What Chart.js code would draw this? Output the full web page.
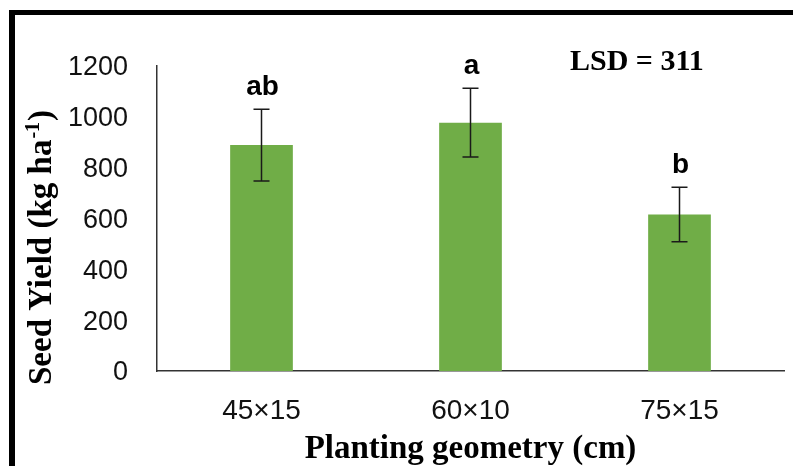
<!DOCTYPE html>
<html>
<head>
<meta charset="utf-8">
<script src="https://cdn.jsdelivr.net/npm/chart.js@4.4.1/dist/chart.umd.min.js"></script>
<style>
  html, body { margin: 0; padding: 0; background: #fff; }
  #wrap { position: relative; width: 793px; height: 466px; }
</style>
</head>
<body>
<div id="wrap"><canvas id="c" width="793" height="466"></canvas></div>
<script>
const categories = ["45×15", "60×10", "75×15"];
const seedYield = [889, 977, 616];
const errorSE = [141, 135, 107];
const letters = ["ab", "a", "b"];
const yTicks = [0, 200, 400, 600, 800, 1000, 1200];
const lsdText = "LSD = 311";
const xTitle = "Planting geometry (cm)";
const yTitleMain = "Seed Yield (kg ha";
const yTitleSup = "-1";
const yTitleEnd = ")";

const serif = '"Liberation Serif", "Times New Roman", serif';

const annotPlugin = {
  id: 'annot',
  beforeDraw(chart) {
    const ctx = chart.ctx;
    ctx.save();
    ctx.fillStyle = '#fff';
    ctx.fillRect(0, 0, chart.width, chart.height);
    ctx.fillStyle = '#000';
    ctx.fillRect(9, 10, chart.width - 9, 5);
    ctx.fillRect(9, 10, 6, chart.height - 10);
    ctx.restore();
  },
  afterDatasetsDraw(chart) {
    const ctx = chart.ctx;
    const meta = chart.getDatasetMeta(0);
    const y = chart.scales.y;
    ctx.save();
    ctx.strokeStyle = '#1a1a1a';
    ctx.lineWidth = 1.5;
    meta.data.forEach((bar, i) => {
      const x = bar.x;
      const top = y.getPixelForValue(seedYield[i] + errorSE[i]);
      const bot = y.getPixelForValue(seedYield[i] - errorSE[i]);
      ctx.beginPath();
      ctx.moveTo(x, top); ctx.lineTo(x, bot);
      ctx.moveTo(x - 8, top); ctx.lineTo(x + 8, top);
      ctx.moveTo(x - 8, bot); ctx.lineTo(x + 8, bot);
      ctx.stroke();
      ctx.fillStyle = '#000';
      ctx.font = 'bold 28px "Liberation Sans", Arial, sans-serif';
      ctx.textAlign = 'center';
      ctx.textBaseline = 'alphabetic';
      ctx.fillText(letters[i], x + 1, top - 14);
    });
    ctx.font = 'bold 30px ' + serif;
    ctx.textAlign = 'left';
    ctx.fillText(lsdText, 570, 70);
    ctx.font = 'bold 33px ' + serif;
    ctx.textAlign = 'center';
    ctx.fillText(xTitle, (chart.chartArea.left + chart.chartArea.right) / 2, 458);
    ctx.translate(51, 385);
    ctx.rotate(-Math.PI / 2);
    ctx.textAlign = 'left';
    ctx.font = 'bold 33px ' + serif;
    ctx.fillText(yTitleMain, 0, 0);
    let w = ctx.measureText(yTitleMain).width;
    ctx.font = 'bold 20px ' + serif;
    ctx.fillText(yTitleSup, w + 1, -12);
    w += 1 + ctx.measureText(yTitleSup).width;
    ctx.font = 'bold 33px ' + serif;
    ctx.fillText(yTitleEnd, w + 1, 0);
    ctx.restore();
  }
};

new Chart(document.getElementById('c'), {
  type: 'bar',
  data: {
    labels: categories,
    datasets: [{
      data: seedYield,
      backgroundColor: '#70AD47',
      borderWidth: 0,
      categoryPercentage: 1.0,
      barPercentage: 0.30
    }]
  },
  options: {
    responsive: false,
    animation: false,
    devicePixelRatio: 1,
    layout: { padding: { top: 66, right: 9, left: 0, bottom: 0 } },
    plugins: { legend: { display: false }, tooltip: { enabled: false } },
    scales: {
      x: {
        grid: { display: false, drawTicks: false },
        border: { display: true, color: '#333', width: 1.5 },
        ticks: { color: '#111', font: { family: '"Liberation Sans", Arial, sans-serif', size: 28 }, padding: 23, maxRotation: 0 },
        afterFit(s) { s.height = 95; }
      },
      y: {
        min: 0, max: 1200,
        afterBuildTicks(s) { s.ticks = yTicks.map(v => ({ value: v })); },
        grid: { display: false, drawTicks: false },
        border: { display: true, color: '#333', width: 1.5 },
        ticks: {
          color: '#111',
          font: { family: '"Liberation Sans", Arial, sans-serif', size: 27 },
          padding: 29,
          labelOffset: 2,
          callback: (v) => String(v)
        },
        afterFit(s) { s.width = 157; }
      }
    }
  },
  plugins: [annotPlugin]
});
</script>
</body>
</html>
